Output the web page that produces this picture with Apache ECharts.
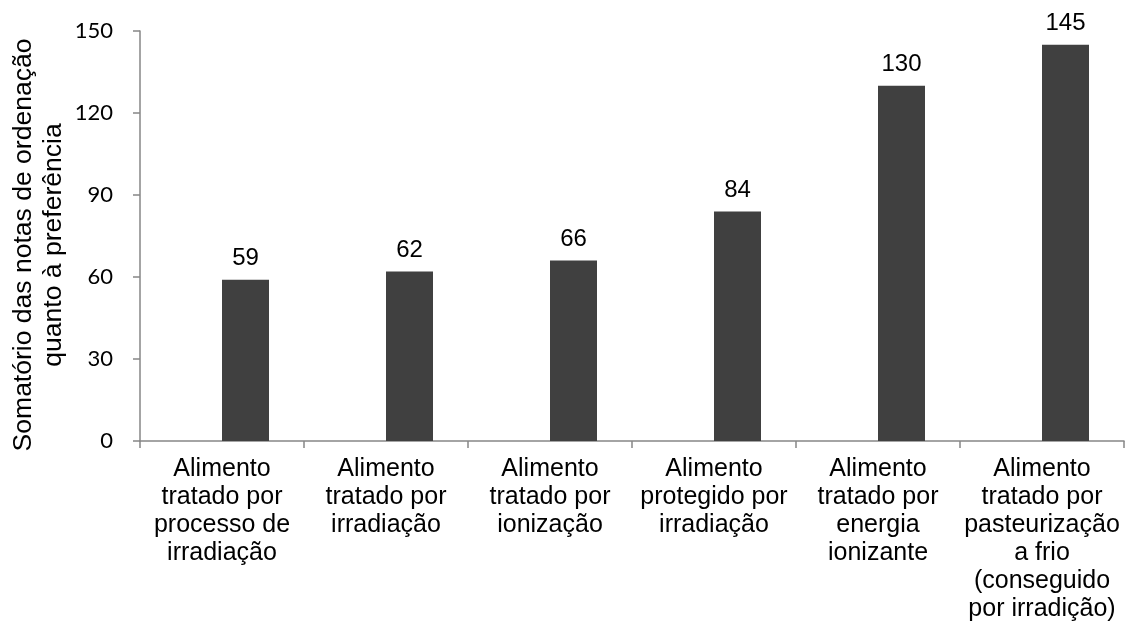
<!DOCTYPE html>
<html>
<head>
<meta charset="utf-8">
<script src="https://cdn.jsdelivr.net/npm/echarts@6/dist/echarts.min.js"></script>
<style>
  html, body { margin: 0; padding: 0; background: #ffffff; }
  #chart { width: 1129px; height: 637px; }
</style>
</head>
<body>
<div id="chart"></div>
<script>
// Category labels (line breaks as printed under each bar)
const categories = [
  'Alimento\ntratado por\nprocesso de\nirradiação',
  'Alimento\ntratado por\nirradiação',
  'Alimento\ntratado por\nionização',
  'Alimento\nprotegido por\nirradiação',
  'Alimento\ntratado por\nenergia\nionizante',
  'Alimento\ntratado por\npasteurização\na frio\n(conseguido\npor irradição)'
];

// Sum of ranking scores for preference
const values = [59, 62, 66, 84, 130, 145];

// Value axis range
const yMin = 0;
const yMax = 150;
const yStep = 30;

const yTitle = 'Somatório das notas de ordenação\nquanto à preferência';

const axisGray = '#868686';
const barColor = '#404040';
const textFont = '"Liberation Sans", Arial, sans-serif';

const chart = echarts.init(document.getElementById('chart'), null, { renderer: 'canvas' });

chart.setOption({
  animation: false,
  backgroundColor: '#ffffff',
  grid: { left: 140, right: 5, top: 31, bottom: 196, containLabel: false },
  xAxis: {
    type: 'category',
    data: categories,
    boundaryGap: true,
    axisLine: { show: true, lineStyle: { color: axisGray, width: 1.5 } },
    axisTick: { show: true, length: 7, lineStyle: { color: axisGray, width: 1.5 } },
    axisLabel: {
      interval: 0,
      margin: 14,
      color: '#000000',
      fontFamily: textFont,
      fontSize: 25,
      lineHeight: 28,
      align: 'center'
    },
    splitLine: { show: false }
  },
  yAxis: {
    type: 'value',
    min: yMin,
    max: yMax,
    interval: yStep,
    axisLine: { show: true, lineStyle: { color: axisGray, width: 1.5 } },
    axisTick: { show: true, inside: false, length: 7, lineStyle: { color: axisGray, width: 1.5 } },
    axisLabel: {
      margin: 27,
      color: '#000000',
      fontFamily: 'Lato, "Liberation Sans", sans-serif',
      fontSize: 22
    },
    splitLine: { show: false }
  },
  graphic: [{
    type: 'text',
    x: 39,
    y: 245,
    rotation: Math.PI / 2,
    scaleX: 1.02,
    style: {
      text: yTitle,
      fontFamily: textFont,
      fontSize: 26,
      lineHeight: 30,
      fill: '#000000',
      align: 'center',
      verticalAlign: 'middle'
    }
  }],
  barGap: 0,
  series: [
    {
      // empty companion slot: keeps each bar to the right of its category centre
      type: 'bar',
      name: 'slot',
      data: [],
      barWidth: 47,
      barGap: 0,
      silent: true
    },
    {
      type: 'bar',
      name: 'Somatório',
      data: values,
      barWidth: 47,
      barGap: 0,
      itemStyle: { color: barColor },
      label: {
        show: true,
        position: 'top',
        distance: 9,
        color: '#000000',
        fontFamily: textFont,
        fontSize: 24
      }
    }
  ]
});
</script>
</body>
</html>
